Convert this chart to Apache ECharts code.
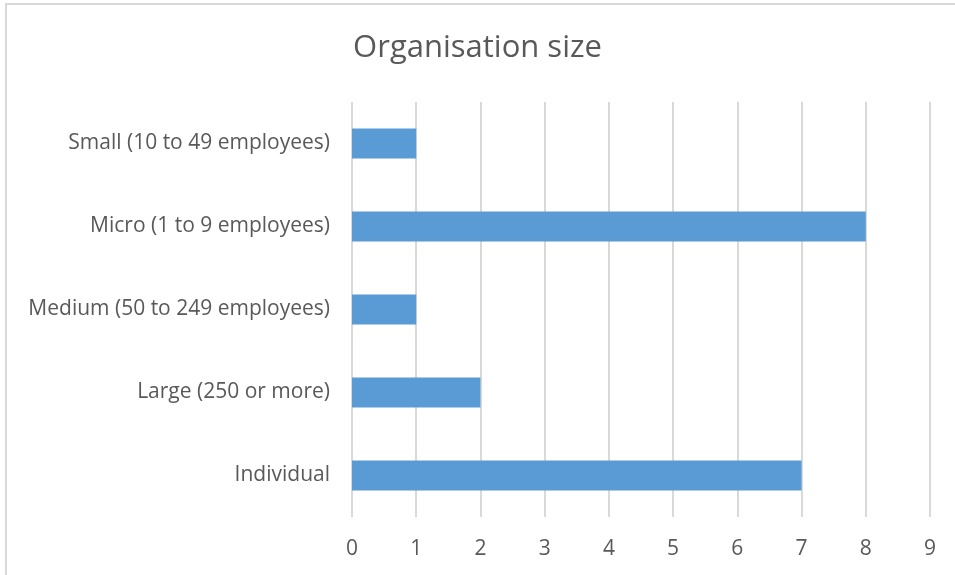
<!DOCTYPE html>
<html>
<head>
<meta charset="utf-8">
<script src="https://cdn.jsdelivr.net/npm/echarts@6/dist/echarts.min.js"></script>
<style>
  html, body { margin: 0; padding: 0; background: #fff; }
  #chart { width: 955px; height: 575px; }
</style>
</head>
<body>
<div id="chart"></div>
<script>
const categories = ['Individual', 'Large (250 or more)', 'Medium (50 to 249 employees)', 'Micro (1 to 9 employees)', 'Small (10 to 49 employees)']
const counts = [7, 2, 1, 8, 1]
const xTicks = [0, 1, 2, 3, 4, 5, 6, 7, 8, 9]

const myChart = echarts.init(document.getElementById('chart'))
const option = {
  animation: false,
  textStyle: { fontFamily: 'Open Sans, Noto Sans, sans-serif' },
  graphic: [{
    type: 'rect',
    shape: { x: 6, y: 4, width: 1000, height: 1000 },
    style: { fill: 'none', stroke: '#d9d9d9', lineWidth: 2 }
  }],
  title: {
    text: 'Organisation size',
    left: 'center',
    top: 28,
    textStyle: { fontSize: 31, fontWeight: 'normal', color: '#595959' }
  },
  grid: { left: 352, right: 25, top: 102, bottom: 58 },
  xAxis: {
    type: 'value',
    min: xTicks[0],
    max: xTicks[xTicks.length - 1],
    interval: 1,
    axisLine: { show: false },
    axisTick: { show: false },
    axisLabel: { fontSize: 21, color: '#595959', margin: 22 },
    splitLine: { lineStyle: { color: '#d9d9d9', width: 2 } }
  },
  yAxis: {
    type: 'category',
    data: categories,
    axisLine: { show: false },
    axisTick: { show: false },
    axisLabel: { fontSize: 21, color: '#595959', margin: 22 }
  },
  series: [{
    type: 'bar',
    data: counts,
    barWidth: 30,
    itemStyle: { color: '#5b9bd5' }
  }]
}
myChart.setOption(option)
</script>
</body>
</html>
